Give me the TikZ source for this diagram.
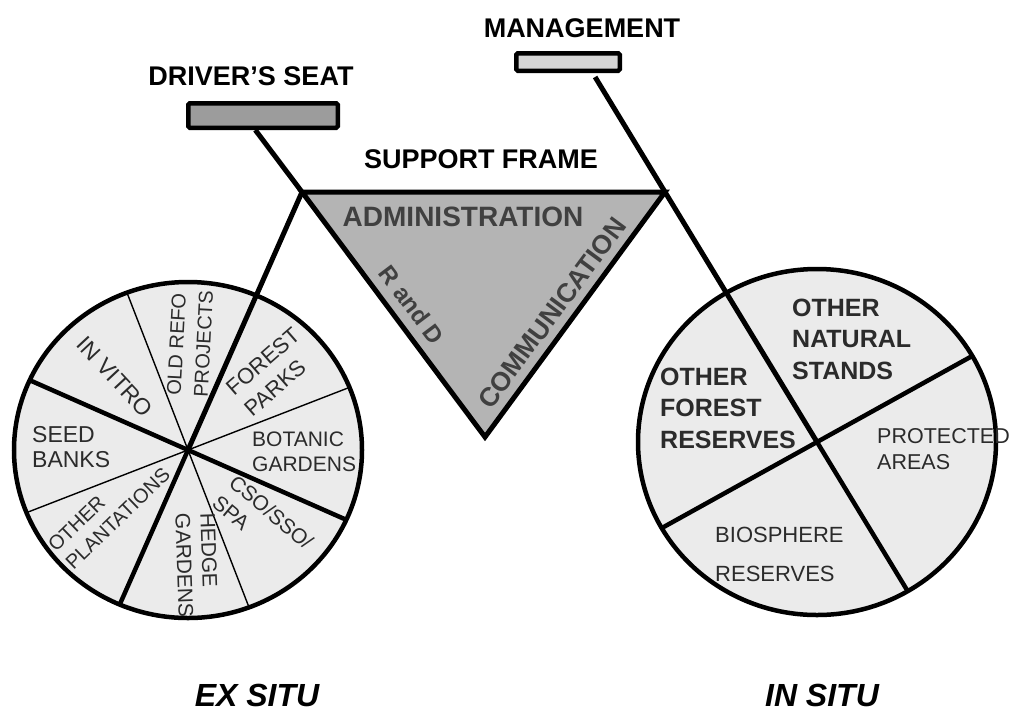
\documentclass[tikz,border=0pt]{standalone}
\usepackage{fontspec}
\setmainfont{Liberation Sans}
\usetikzlibrary{calc}

\definecolor{wheelfill}{HTML}{EBEBEB}
\definecolor{framefill}{HTML}{B4B4B4}
\definecolor{seatfill}{HTML}{9C9C9C}
\definecolor{mgmtfill}{HTML}{D6D6D6}
\definecolor{labelgray}{HTML}{2B2B2B}
\definecolor{framegray}{HTML}{404040}

\begin{document}
\begin{tikzpicture}[x=1pt,y=-1pt,
  frameline/.style={line width=5pt, line join=round},
  rim/.style={line width=4.5pt},
  thickspoke/.style={line width=4.5pt},
  thinspoke/.style={line width=1.4pt},
  barbox/.style={draw, line width=4.5pt, rounded corners=1.5pt, inner sep=0pt},
  hdr/.style={font=\fontsize{27}{32}\selectfont\bfseries, inner sep=0pt},
  trilbl/.style={text=framegray, inner sep=0pt},
  site/.style={font=\fontsize{32}{36}\selectfont\bfseries\itshape, inner sep=0pt},
  lbl/.style={text=labelgray, inner sep=0pt, align=left},
  boldlbl/.style={text=labelgray, inner sep=0pt, align=left,
    font=\fontsize{25}{31.5}\selectfont\bfseries},
]
\useasboundingbox (0,0) rectangle (1011,713);

% key points of the bicycle
\coordinate (A) at (302,192);   % seat joint
\coordinate (B) at (665,192);   % handlebar joint
\coordinate (C) at (485,437);   % bottom of the frame
\coordinate (LC) at (188,450);  % rear hub
\coordinate (RC) at (817,442);  % front hub

% ---------- wheels ----------
\fill[wheelfill] (LC) ellipse [x radius=174pt, y radius=168pt];
\fill[wheelfill] (RC) ellipse [x radius=179pt, y radius=173pt];

\begin{scope}
  \clip (LC) ellipse [x radius=174pt, y radius=168pt];
  \draw[thinspoke] ($(LC)+(-21.2:300)$) -- ($(LC)+(158.8:300)$);
  \draw[thinspoke] ($(LC)+(-111.2:300)$) -- ($(LC)+(68.8:300)$);
  \draw[thickspoke] ($(LC)+(-156.2:300)$) -- ($(LC)+(23.8:300)$);
  \draw[thickspoke] (LC) -- ($(LC)!-1!(A)$);
\end{scope}

\begin{scope}
  \clip (RC) ellipse [x radius=179pt, y radius=173pt];
  \draw[thickspoke] ($(RC)+(-29:300)$) -- ($(RC)+(151:300)$);
  \draw[thickspoke] (RC) -- ($(RC)!-1!(B)$);
\end{scope}

\draw[rim] (LC) ellipse [x radius=174pt, y radius=168pt];
\draw[rim] (RC) ellipse [x radius=179pt, y radius=173pt];

% ---------- seat and handlebar ----------
\node[barbox, fill=seatfill, minimum width=149.5pt, minimum height=24.5pt] (seat) at (263,115.5) {};
\node[barbox, fill=mgmtfill, minimum width=103.5pt, minimum height=17.5pt] (mgmt) at (568,62) {};

\coordinate (seatpost) at ($(seat.south west)!0.45!(seat.south east)$);
\coordinate (mgmtpost) at ($(RC)!1.46!(B)$);

% ---------- frame ----------
\draw[frameline] (seatpost) -- (A) -- (LC);
\draw[frameline] (mgmtpost) -- (B) -- (RC);
\filldraw[frameline, fill=framefill, line join=miter] (A) -- (B) -- (C) -- cycle;

% ---------- frame texts ----------
\node[hdr] (seatlbl) at (251,76) {DRIVER’S SEAT};
\node[hdr] (mgmtlbl) at (582,28) {MANAGEMENT};
\node[hdr] (framelbl) at (481,159) {SUPPORT FRAME};
\node[trilbl, font=\fontsize{28}{32}\selectfont\bfseries] (admin) at (463,217) {ADMINISTRATION};
\node[trilbl, font=\fontsize{24}{28}\selectfont\bfseries, rotate=-53] (rnd) at (412,305) {R and D};
\node[trilbl, font=\fontsize{26.5}{30}\selectfont\bfseries, rotate=53.5] (comm) at (552,313) {COMMUNICATION};

% ---------- ex situ wheel ----------
\node[lbl, font=\fontsize{23}{26}\selectfont, rotate=-47] (invitro) at (115,377) {IN VITRO};
\node[lbl, font=\fontsize{20}{27}\selectfont, rotate=87] (oldrefo) at (190,343) {OLD REFO\\PROJECTS};
\node[lbl, font=\fontsize{22}{28}\selectfont, rotate=41] (forest) at (272,372) {FOREST\\PARKS};
\node[lbl, font=\fontsize{21}{25}\selectfont, anchor=west] (botanic) at (252,452) {BOTANIC\\GARDENS};
\node[lbl, font=\fontsize{21}{26}\selectfont, rotate=-40] (cso) at (263,522) {CSO/SSO/\\SPA};
\node[lbl, font=\fontsize{21}{25}\selectfont, rotate=-88, anchor=west] (hedge) at (195,513) {HEDGE\\GARDENS};
\node[lbl, font=\fontsize{20}{25}\selectfont, rotate=44, anchor=west] (plant) at (60,557) {OTHER\\PLANTATIONS};
\node[lbl, font=\fontsize{23}{25}\selectfont, anchor=west] (seed) at (32,447) {SEED\\BANKS};

% ---------- in situ wheel ----------
\node[boldlbl, anchor=west] (natural) at (792,339) {OTHER\\NATURAL\\STANDS};
\node[boldlbl, anchor=west] (reserves) at (660,408) {OTHER\\FOREST\\RESERVES};
\node[lbl, font=\fontsize{21.5}{26}\selectfont, anchor=west] (protected) at (877,449.5) {PROTECTED\\AREAS};
\node[lbl, font=\fontsize{22}{39}\selectfont, anchor=west] (biosphere) at (715,554.5) {BIOSPHERE\\RESERVES};

% ---------- captions ----------
\node[site] (exsitu) at (257,695) {EX SITU};
\node[site] (insitu) at (822,695) {IN SITU};
\end{tikzpicture}
\end{document}
